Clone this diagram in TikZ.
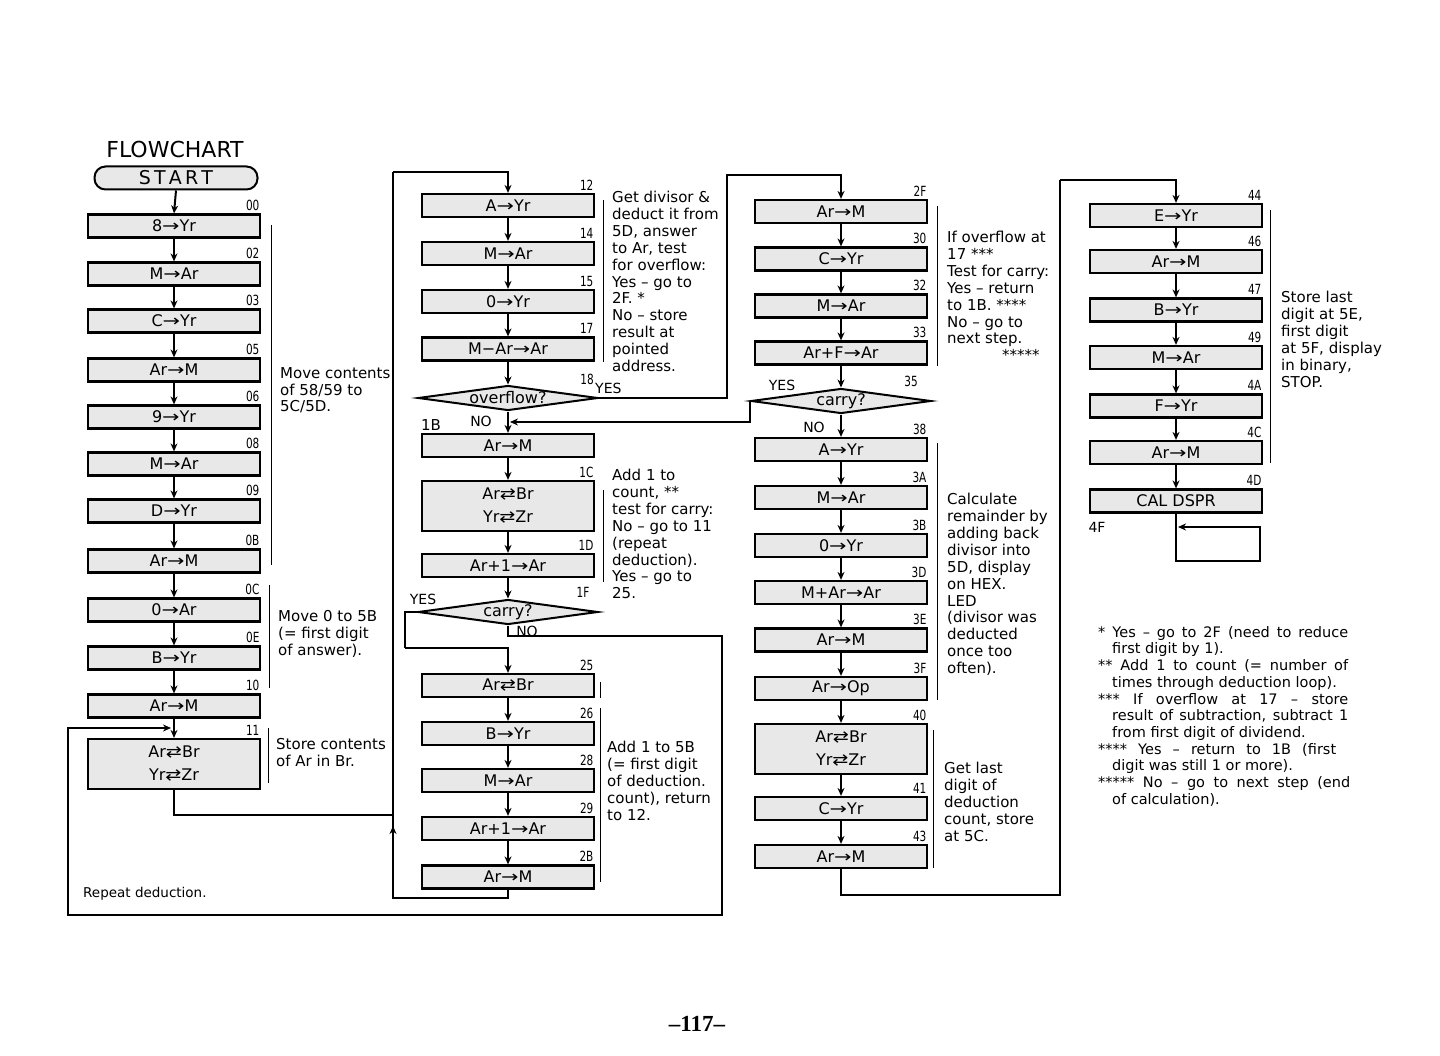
\documentclass[tikz,border=0pt]{standalone}
\usepackage{fontspec}
\setmainfont{DejaVu Sans}
\newfontfamily\pagefont{Liberation Serif}
\usepackage{graphicx}
\usetikzlibrary{shapes.geometric,arrows.meta,calc}

\newcommand\fsz[2]{\fontsize{#1}{#2}\selectfont}
\newcommand\ra{\scalebox{1.3}[1]{→}}
\newcommand\xch{\scalebox{1.2}[1]{⇄}}
\newcommand\nlab[1]{\node[numlbl,anchor=south east] (lbl#1) at ([xshift=-1pt,yshift=2pt]b#1.north east) {\scalebox{0.75}[1]{#1}};}
\newcommand\jl[2]{\makebox[#1][s]{#2}}

\tikzset{
  opbox/.style={draw, line width=2.2pt, fill=gray!18, minimum width=172pt, minimum height=23pt, inner sep=0pt, font=\fsz{16}{18}},
  opboxtall/.style={opbox, minimum height=50pt, align=center, font=\fsz{16}{23}},
  startbox/.style={draw, line width=2pt, rounded corners=11pt, fill=gray!18, minimum width=163pt, minimum height=23pt, inner sep=0pt, font=\fsz{19}{20}},
  decide/.style={diamond, draw, line width=2pt, fill=gray!18, aspect=7.2, minimum width=180pt, minimum height=25pt, inner sep=0pt, font=\fsz{16}{18}},
  conn/.style={line width=2pt, -{Stealth[length=8pt,width=7pt]}},
  wire/.style={line width=2pt},
  numlbl/.style={inner sep=0.5pt, font=\fsz{14}{14}},
  note/.style={anchor=north west, align=left, inner sep=0pt, font=\fsz{15}{16.9}},
  brk/.style={line width=0.9pt},
  tag/.style={inner sep=0pt, font=\fsz{14}{16}},
}

\begin{document}
\begin{tikzpicture}[x=1pt,y=-1pt]
\useasboundingbox (0,0) rectangle (1440,1056);
\fill[white] (0,0) rectangle (1440,1056);

% ---------- column 1 ----------
\node[font=\fsz{22}{24}] (title) at (175,149) {FLOWCHART};
\node[startbox] (start) at (176,178) {S\,T\,A\,R\,T};
\node[opbox] (b00) at (174,226) {8\ra Yr};
\node[opbox] (b02) at (174,274) {M\ra Ar};
\node[opbox] (b03) at (174,321) {C\ra Yr};
\node[opbox] (b05) at (174,370) {Ar\ra M};
\node[opbox] (b06) at (174,417) {9\ra Yr};
\node[opbox] (b08) at (174,464) {M\ra Ar};
\node[opbox] (b09) at (174,511) {D\ra Yr};
\node[opbox] (b0B) at (174,561) {Ar\ra M};
\node[opbox] (b0C) at (174,610) {0\ra Ar};
\node[opbox] (b0E) at (174,658) {B\ra Yr};
\node[opbox] (b10) at (174,706) {Ar\ra M};
\node[opboxtall] (b11) at (174,764) {Ar\xch Br\\Yr\xch Zr};
\nlab{00}\nlab{02}\nlab{03}\nlab{05}\nlab{06}\nlab{08}\nlab{09}
\nlab{0B}\nlab{0C}\nlab{0E}\nlab{10}\nlab{11}

% ---------- column 2 ----------
\node[opbox] (b12) at (508,205.5) {A\ra Yr};
\node[opbox] (b14) at (508,253.5) {M\ra Ar};
\node[opbox] (b15) at (508,301.5) {0\ra Yr};
\node[opbox] (b17) at (508,349) {M−Ar\ra Ar};
\node[decide] (ov) at (508,398) {overflow?};
\node[opbox] (b1B) at (508,445.5) {Ar\ra M};
\node[opboxtall] (b1C) at (508,506) {Ar\xch Br\\Yr\xch Zr};
\node[opbox] (b1D) at (508,565.5) {Ar+1\ra Ar};
\node[decide] (c1F) at (508,612) {carry?};
\node[opbox] (b25) at (508,685.5) {Ar\xch Br};
\node[opbox] (b26) at (508,733.5) {B\ra Yr};
\node[opbox] (b28) at (508,780.5) {M\ra Ar};
\node[opbox] (b29) at (508,828.5) {Ar+1\ra Ar};
\node[opbox] (b2B) at (508,877) {Ar\ra M};
\nlab{12}\nlab{14}\nlab{15}\nlab{17}\nlab{1C}\nlab{1D}
\nlab{25}\nlab{26}\nlab{28}\nlab{29}\nlab{2B}

% ---------- column 3 ----------
\node[opbox] (b2F) at (841,211.5) {Ar\ra M};
\node[opbox] (b30) at (841,259) {C\ra Yr};
\node[opbox] (b32) at (841,306) {M\ra Ar};
\node[opbox] (b33) at (841,353) {Ar+F\ra Ar};
\node[decide] (c35) at (841,401) {carry?};
\node[opbox] (b38) at (841,449.5) {A\ra Yr};
\node[opbox] (b3A) at (841,497.5) {M\ra Ar};
\node[opbox] (b3B) at (841,545.5) {0\ra Yr};
\node[opbox] (b3D) at (841,592.5) {M+Ar\ra Ar};
\node[opbox] (b3E) at (841,640) {Ar\ra M};
\node[opbox] (b3F) at (841,688.5) {Ar\ra Op};
\node[opboxtall] (b40) at (841,749) {Ar\xch Br\\Yr\xch Zr};
\node[opbox] (b41) at (841,808.5) {C\ra Yr};
\node[opbox] (b43) at (841,856.5) {Ar\ra M};
\nlab{2F}\nlab{30}\nlab{32}\nlab{33}\nlab{38}\nlab{3A}\nlab{3B}
\nlab{3D}\nlab{3E}\nlab{3F}\nlab{40}\nlab{41}\nlab{43}

% ---------- column 4 ----------
\node[opbox] (b44) at (1176,215.5) {E\ra Yr};
\node[opbox] (b46) at (1176,261.5) {Ar\ra M};
\node[opbox] (b47) at (1176,310) {B\ra Yr};
\node[opbox] (b49) at (1176,357.5) {M\ra Ar};
\node[opbox] (b4A) at (1176,406) {F\ra Yr};
\node[opbox] (b4C) at (1176,452.5) {Ar\ra M};
\node[opbox] (b4D) at (1176,501) {CAL DSPR};
\nlab{44}\nlab{46}\nlab{47}\nlab{49}\nlab{4A}\nlab{4C}\nlab{4D}

% ---------- straight connectors ----------
\foreach \a/\b in {start/b00,b00/b02,b02/b03,b03/b05,b05/b06,b06/b08,b08/b09,b09/b0B,b0B/b0C,b0C/b0E,b0E/b10,b10/b11,
  b12/b14,b14/b15,b15/b17,b17/ov,ov/b1B,b1B/b1C,b1C/b1D,b1D/c1F,b25/b26,b26/b28,b28/b29,b29/b2B,
  b2F/b30,b30/b32,b32/b33,b33/c35,c35/b38,b38/b3A,b3A/b3B,b3B/b3D,b3D/b3E,b3E/b3F,b3F/b40,b40/b41,b41/b43,
  b44/b46,b46/b47,b47/b49,b49/b4A,b4A/b4C,b4C/b4D}
  \draw[conn] (\a.south) -- (\b.north);

% ---------- loops ----------
\coordinate (lpA) at (393,898);
\coordinate (lpB) at (393,172);
\coordinate (lpM) at (393,826);
\coordinate (j11) at (393,815);
\draw[wire] (b2B.south) |- (lpA) -- (lpB);
\draw[conn] (lpB) -| (b12.north);
\draw[conn] (lpA) -- (lpM);
\draw[wire] (b11.south) |- (j11);

\coordinate (ovc) at (727,175);
\draw[conn] (ov.east) -| (ovc) -| (b2F.north);

\coordinate (m1B) at (510,422);
\draw[conn] (c35.west) |- (m1B);

\coordinate (y1F) at (405,648);
\draw[wire] (c1F.west) -| (y1F);
\draw[conn] (y1F) -| (b25.north);

\coordinate (r1) at (722,636);
\coordinate (r2) at (68,915);
\coordinate (r3) at (171,728);
\draw[conn] (c1F.south) |- (r1) |- (r2) |- (r3);

\coordinate (k1) at (1060,895);
\coordinate (k2) at (1060,180);
\draw[wire] (b43.south) |- (k1) -- (k2);
\draw[conn] (k2) -| (b44.north);

\coordinate (q1) at (1260,561);
\coordinate (q2) at (1178,527);
\draw[conn] (b4D.south) |- (q1) |- (q2);

% ---------- branch labels ----------
\node[numlbl] (t18) at (587,379) {\scalebox{0.75}[1]{18}};
\node[tag, anchor=base west] (yesOv) at (595,393) {YES};
\node[tag] (noOv) at (481,421) {NO};
\node[tag, font=\fsz{15}{16}] (t1B) at (431,425) {1B};
\node[tag] (yes1F) at (423,599) {YES};
\node[tag] (no1F) at (527,631) {NO};
\node[numlbl] (t1F) at (583,592) {\scalebox{0.75}[1]{1F}};
\node[numlbl] (t35) at (911,381) {\scalebox{0.75}[1]{35}};
\node[tag] (yes35) at (782,385) {YES};
\node[tag] (no35) at (814,427) {NO};
\node[tag] (t4F) at (1097,527) {4F};

% ---------- brackets ----------
\draw[brk] (271,225) -- (271,565);
\draw[brk] (269,585) -- (269,688);
\draw[brk] (268,728) -- (268,783);
\draw[brk] (603,200) -- (603,362);
\draw[brk] (603,490) -- (603,582);
\draw[brk] (600,682) -- (600,698);
\draw[brk] (600,708) -- (600,882);
\draw[brk] (937,206) -- (937,366);
\draw[brk] (937,443) -- (937,700);
\draw[brk] (933,730) -- (933,868);
\draw[brk] (1270,210) -- (1270,463);

% ---------- annotations ----------
\node[note] (a1) at (280,367) {Move contents\\of 58/59 to\\5C/5D.};
\node[note] (a2) at (278,610) {Move 0 to 5B\\(= first digit\\of answer).};
\node[note] (a3) at (276,738) {Store contents\\of Ar in Br.};
\node[note] (a4) at (612,191) {Get divisor \&\\deduct it from\\5D, answer\\to Ar, test\\for overflow:\\Yes – go to\\2F. *\\No – store\\result at\\pointed\\address.};
\node[note] (a5) at (612,469) {Add 1 to\\count, **\\test for carry:\\No – go to 11\\(repeat\\deduction).\\Yes – go to\\25.};
\node[note] (a6) at (607,741) {Add 1 to 5B\\(= first digit\\of deduction.\\count), return\\to 12.};
\node[note] (a7) at (947,231) {If overflow at\\17 ***\\Test for carry:\\Yes – return\\to 1B. ****\\No – go to\\next step.\\\hspace*{55pt}*****};
\node[note] (a8) at (947,493) {Calculate\\remainder by\\adding back\\divisor into\\5D, display\\on HEX.\\LED\\(divisor was\\deducted\\once too\\often).};
\node[note] (a9) at (944,762) {Get last\\digit of\\deduction\\count, store\\at 5C.};
\node[note] (a10) at (1281,291) {Store last\\digit at 5E,\\first digit\\at 5F, display\\in binary,\\STOP.};

\node[note, font=\fsz{14.5}{16.7}] (fn) at (1098,626) {\jl{250pt}{* Yes – go to 2F (need to reduce}\\\relax
\hspace*{14pt}first digit by 1).\\\relax
\jl{250pt}{** Add 1 to count (= number of}\\\relax
\hspace*{14pt}times through deduction loop).\\\relax
\jl{250pt}{*** If overflow at 17 – store}\\\relax
\hspace*{14pt}\jl{236pt}{result of subtraction, subtract 1}\\\relax
\hspace*{14pt}from first digit of dividend.\\\relax
\jl{238pt}{**** Yes – return to 1B (first}\\\relax
\hspace*{14pt}digit was still 1 or more).\\\relax
\jl{252pt}{***** No – go to next step (end}\\\relax
\hspace*{14pt}of calculation).};

\node[note, font=\fsz{13.5}{15}] (rep) at (83,887) {Repeat deduction.};

\node[font=\pagefont\bfseries\fsz{23}{24}] (pg) at (697,1024) {–117–};
\end{tikzpicture}
\end{document}
